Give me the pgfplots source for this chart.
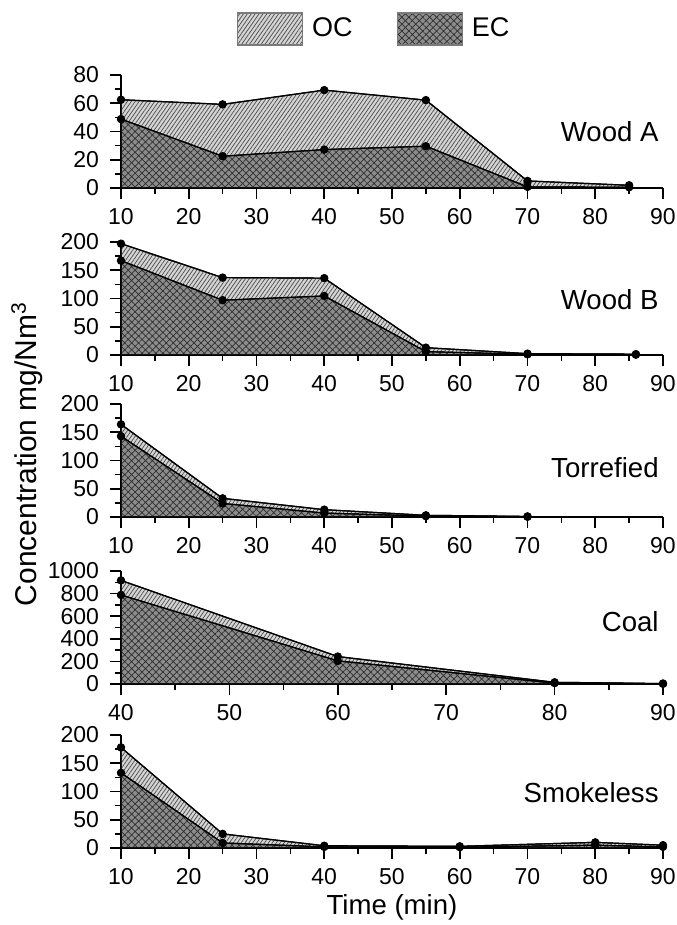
\documentclass[border=0pt]{standalone}
\usepackage{fontspec}
\setmainfont{Liberation Sans}
\usepackage{pgfplots}
\pgfplotsset{compat=1.18}
\usepackage{pgfplotstable}
\usetikzlibrary{patterns.meta}

\definecolor{ocfill}{HTML}{D4D4D4}
\definecolor{ecfill}{HTML}{8C8C8C}
\definecolor{ocline}{HTML}{4A4A4A}
\definecolor{ecline}{HTML}{2E2E2E}
\definecolor{keyframe}{HTML}{7A7A7A}

% total = OC + EC, ec = elemental carbon (mg/Nm^3)
\pgfplotstableread{
t total ec
10 62.5 48.8
25 59.2 22.5
40 69.3 27.2
55 62.2 29.6
70 5.0 0.8
85 1.9 0.5
}\woodA
\pgfplotstableread{
t total ec
10 197 167
25 137 97
40 136 104.5
55 13 6
70 2.4 1.2
86 1.5 0.6
}\woodB
\pgfplotstableread{
t total ec
10 164 143
25 33 24
40 13 7
55 3 1.5
70 1 0.5
}\torrefied
\pgfplotstableread{
t total ec
40 917 788
60 243 205
80 15 8
90 4 2
}\coal
\pgfplotstableread{
t total ec
10 178 133
25 25 9
40 4 2
60 3 1.5
80 10 5
90 5 2
}\smokeless

\tikzset{tag/.style={anchor=east, inner sep=0pt, xshift=-2pt,
  font=\fontsize{13.8}{16}\selectfont}}

\pgfplotsset{
  panel/.style={
    scale only axis, width=271pt, height=56.5pt,
    xmin=10, xmax=90, ymin=0,
    axis lines=left, axis line style={-, line width=0.8pt},
    tick align=outside, major tick length=5.5pt, minor tick length=2.8pt,
    minor x tick num=1, minor y tick num=1,
    every tick/.style={black, line width=0.8pt},
    xtick distance=10,
    tick label style={font=\fontsize{11.5}{13}\selectfont},
    xticklabel style={yshift=-1pt},
    yticklabel style={xshift=-2pt},
    /pgf/number format/assume math mode=true,
    /pgf/number format/1000 sep={},
  },
  ocarea/.style={draw=black, line width=0.6pt, fill=ocfill,
    postaction={pattern={Lines[angle=55,distance=1.6pt,line width=0.35pt]},pattern color=ocline},
    legend image code/.code={\draw[##1, draw=keyframe] (0pt,-8pt) rectangle (32.5pt,8pt);}},
  ecarea/.style={draw=black, line width=0.6pt, fill=ecfill,
    postaction={pattern={Hatch[angle=45,distance=2.45pt,line width=0.35pt]},pattern color=ecline},
    legend image code/.code={\draw[##1, draw=keyframe] (0pt,-8pt) rectangle (32.5pt,8pt);}},
  dots/.style={only marks, mark=*, mark size=1.9pt, black, forget plot},
}

\begin{document}
\begin{tikzpicture}
\useasboundingbox (0,0) rectangle (338pt,-462.5pt);

% Wood A
\begin{axis}[panel, at={(60.5pt,-37.5pt)}, anchor=north west,
  ymax=80, ytick distance=20,
  legend columns=2,
  legend style={draw=none, fill=none, at={(rel axis cs:0.469,1)}, anchor=center,
    yshift=23pt, font=\fontsize{13.5}{15}\selectfont,
    /tikz/every odd column/.append style={column sep=2.5pt},
    /tikz/every even column/.append style={column sep=20pt}}]
\addplot[ocarea] table[x=t, y=total] {\woodA} \closedcycle;
\addlegendentry{OC}
\addplot[ecarea] table[x=t, y=ec] {\woodA} \closedcycle;
\addlegendentry{EC}
\addplot[dots] table[x=t, y=total] {\woodA};
\addplot[dots] table[x=t, y=ec] {\woodA};
\node[tag] at (rel axis cs:1,0.5) {Wood A};
\end{axis}

% Wood B
\begin{axis}[panel, at={(60.5pt,-121pt)}, anchor=north west,
  ymax=200, ytick distance=50]
\addplot[ocarea] table[x=t, y=total] {\woodB} \closedcycle;
\addplot[ecarea] table[x=t, y=ec] {\woodB} \closedcycle;
\addplot[dots] table[x=t, y=total] {\woodB};
\addplot[dots] table[x=t, y=ec] {\woodB};
\node[tag] at (rel axis cs:1,0.49) {Wood B};
\end{axis}

% Torrefied
\begin{axis}[panel, at={(60.5pt,-202pt)}, anchor=north west,
  ymax=200, ytick distance=50]
\addplot[ocarea] table[x=t, y=total] {\torrefied} \closedcycle;
\addplot[ecarea] table[x=t, y=ec] {\torrefied} \closedcycle;
\addplot[dots] table[x=t, y=total] {\torrefied};
\addplot[dots] table[x=t, y=ec] {\torrefied};
\node[tag] at (rel axis cs:1,0.44) {Torrefied};
\end{axis}

% Coal
\begin{axis}[panel, at={(60.5pt,-285.5pt)}, anchor=north west,
  xmin=40, xmax=90, ymax=1000, ytick distance=200]
\addplot[ocarea] table[x=t, y=total] {\coal} \closedcycle;
\addplot[ecarea] table[x=t, y=ec] {\coal} \closedcycle;
\addplot[dots] table[x=t, y=total] {\coal};
\addplot[dots] table[x=t, y=ec] {\coal};
\node[tag] at (rel axis cs:1,0.55) {Coal};
\end{axis}

% Smokeless
\begin{axis}[panel, at={(60.5pt,-367.5pt)}, anchor=north west,
  ymax=200, ytick distance=50,
  xlabel={Time (min)},
  xlabel style={font=\fontsize{13.8}{16}\selectfont,
    at={(rel axis cs:0.5,0)}, anchor=center, yshift=-29.5pt}]
\addplot[ocarea] table[x=t, y=total] {\smokeless} \closedcycle;
\addplot[ecarea] table[x=t, y=ec] {\smokeless} \closedcycle;
\addplot[dots] table[x=t, y=total] {\smokeless};
\addplot[dots] table[x=t, y=ec] {\smokeless};
\node[tag] at (rel axis cs:1,0.49) {Smokeless};
\end{axis}

\node[rotate=90, font=\fontsize{15}{17}\selectfont] at (13.5pt,-227pt)
  {Concentration mg/Nm\textsuperscript{3}};
\end{tikzpicture}
\end{document}
